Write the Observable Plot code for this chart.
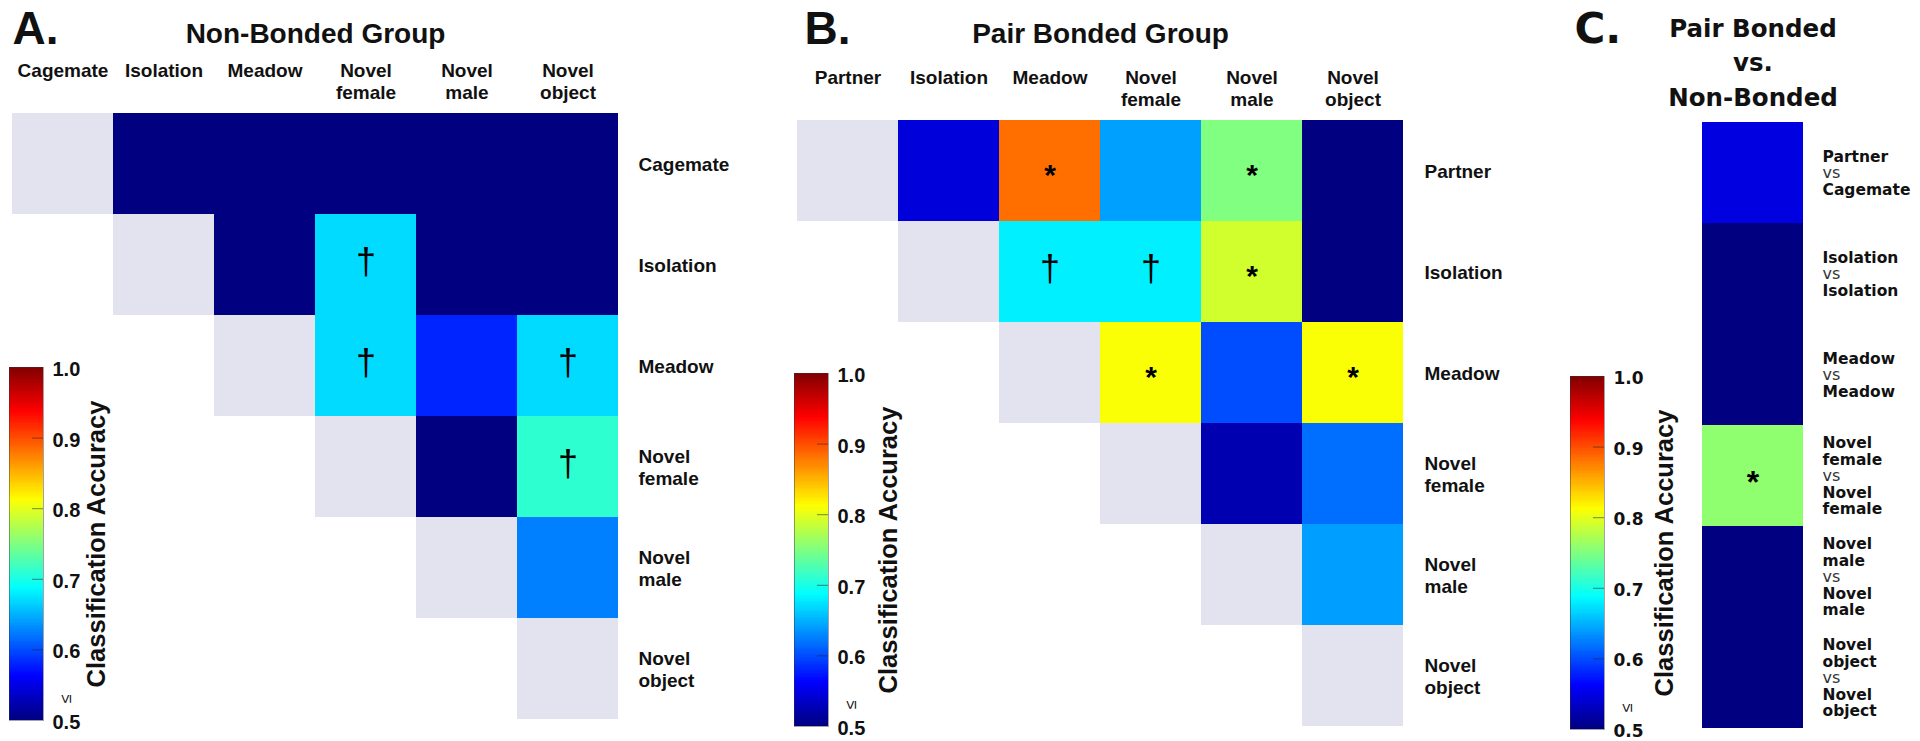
<!DOCTYPE html>
<html>
<head>
<meta charset="utf-8">
<script src="https://cdn.jsdelivr.net/npm/d3@7"></script>
<script src="https://cdn.jsdelivr.net/npm/@observablehq/plot@0.6"></script>
<style>
html, body { margin: 0; padding: 0; background: #fff; overflow: hidden; }
#wrap { position: relative; width: 1920px; height: 741px; }
#wrap svg { position: absolute; top: 0; overflow: visible; }
</style>
</head>
<body>
<div id="wrap"></div>
<script>
// ---------------- DATA ----------------
// Panel A: Non-Bonded Group (upper triangle, null = not drawn)
const nbLabels = ["Cagemate", "Isolation", "Meadow", "Novel female", "Novel male", "Novel object"];
const nbAcc = [
  [null, 0.50, 0.50, 0.50, 0.50, 0.50],
  [null, null, 0.50, 0.67, 0.50, 0.50],
  [null, null, null, 0.67, 0.58, 0.67],
  [null, null, null, null, 0.50, 0.71],
  [null, null, null, null, null, 0.625],
  [null, null, null, null, null, null]
];
const nbSig = [
  ["", "", "", "", "", ""],
  ["", "", "", "†", "", ""],
  ["", "", "", "†", "", "†"],
  ["", "", "", "", "", "†"],
  ["", "", "", "", "", ""],
  ["", "", "", "", "", ""]
];

// Panel B: Pair Bonded Group
const pbLabels = ["Partner", "Isolation", "Meadow", "Novel female", "Novel male", "Novel object"];
const pbAcc = [
  [null, 0.545, 0.883, 0.641, 0.75, 0.50],
  [null, null, 0.68, 0.68, 0.79, 0.50],
  [null, null, null, 0.81, 0.60, 0.81],
  [null, null, null, null, 0.524, 0.617],
  [null, null, null, null, null, 0.64],
  [null, null, null, null, null, null]
];
const pbSig = [
  ["", "", "*", "", "*", ""],
  ["", "", "†", "†", "*", ""],
  ["", "", "", "*", "", "*"],
  ["", "", "", "", "", ""],
  ["", "", "", "", "", ""],
  ["", "", "", "", "", ""]
];

// Panel C: Pair Bonded vs. Non-Bonded
const cmpFirst = ["Partner", "Isolation", "Meadow", "Novel female", "Novel male", "Novel object"];
const cmpSecond = ["Cagemate", "Isolation", "Meadow", "Novel female", "Novel male", "Novel object"];
const cmpAcc = [0.547, 0.50, 0.50, 0.758, 0.50, 0.50];
const cmpSig = ["", "", "", "*", "", ""];

// Colorbar ticks
const cbTicks = [0.5, 0.6, 0.7, 0.8, 0.9, 1.0];

// Titles
const titleA = "Non-Bonded Group";
const titleB = "Pair Bonded Group";
const titleC = "Pair Bonded\nvs.\nNon-Bonded";
const cbLabel = "Classification Accuracy";

// ---------------- STYLE ----------------
const fontA = "'Liberation Sans', Arial, Helvetica, sans-serif";
const fontW = "'DejaVu Sans', Verdana, sans-serif";
const ink = "#111";
const diagFill = "#e3e3ef";
// MATLAB "jet" colormap as a piecewise linear scale over 0.5 .. 1.0
const jet = {
  type: "linear",
  domain: [0.5, 0.5625, 0.6875, 0.8125, 0.9375, 1.0],
  range: ["#000080", "#0000ff", "#00ffff", "#ffff00", "#ff0000", "#800000"],
  interpolate: "rgb",
  clamp: true
};
const wrap = document.getElementById("wrap");
const twoLines = s => s.replace(" ", "\n");

function place(svg, left) {
  svg.style.left = left + "px";
  wrap.appendChild(svg);
}

// ---------------- MATRIX PANELS ----------------
function matrixPanel(o) {
  const cells = [], diag = [];
  o.labels.forEach((r, i) => o.labels.forEach((c, j) => {
    if (i === j) diag.push({row: r, col: c});
    else if (o.acc[i][j] != null) cells.push({row: r, col: c, v: o.acc[i][j], sig: o.sig[i][j]});
  }));
  const svg = Plot.plot({
    width: o.width,
    height: 741,
    marginLeft: o.x0 - o.left,
    marginRight: o.left + o.width - o.x1,
    marginTop: o.y0,
    marginBottom: 741 - o.y1,
    x: {domain: o.labels, padding: 0, axis: null},
    y: {domain: o.labels, padding: 0, axis: null},
    color: jet,
    style: {fontFamily: fontA, fontWeight: "bold", fontSize: "19px", color: ink, background: "transparent"},
    marks: [
      Plot.cell(diag, {x: "col", y: "row", fill: diagFill, shapeRendering: "crispEdges"}),
      Plot.cell(cells, {x: "col", y: "row", fill: "v", shapeRendering: "crispEdges"}),
      Plot.text(cells.filter(d => d.sig === "†"), {x: "col", y: "row", text: "sig", fontSize: 36, fontWeight: "normal", fill: "#000", dy: -3}),
      Plot.text(cells.filter(d => d.sig === "*"), {x: "col", y: "row", text: "sig", fontSize: 30, fontWeight: "bold", fill: "#000", dy: 4}),
      Plot.text(o.labels, {x: d => d, text: twoLines, frameAnchor: "top", lineAnchor: "top", lineHeight: 1.16, fontSize: 19, dy: o.headerDy}),
      Plot.text(o.labels, {y: d => d, text: twoLines, frameAnchor: "right", textAnchor: "start", lineAnchor: "middle", lineHeight: 1.16, fontSize: 19, dx: o.rowDx}),
      Plot.text([o.title], {frameAnchor: "top", textAnchor: "middle", lineAnchor: "bottom", fontSize: 28, dy: o.titleBase - o.y0}),
      Plot.text([o.letter], {frameAnchor: "top-left", textAnchor: "start", lineAnchor: "bottom", fontSize: 46, dx: o.letterX - o.x0, dy: o.letterBase - o.y0})
    ]
  });
  place(svg, o.left);
}

matrixPanel({
  labels: nbLabels, acc: nbAcc, sig: nbSig, title: titleA, letter: "A.",
  left: 0, width: 760, x0: 12, x1: 618, y0: 113, y1: 719,
  headerDy: -52, rowDx: 20, titleBase: 42, letterX: 12, letterBase: 43
});
matrixPanel({
  labels: pbLabels, acc: pbAcc, sig: pbSig, title: titleB, letter: "B.",
  left: 760, width: 740, x0: 797, x1: 1403, y0: 120, y1: 726,
  headerDy: -52, rowDx: 21, titleBase: 42, letterX: 804, letterBase: 43
});

// ---------------- PANEL C ----------------
{
  const rows = cmpFirst.map((f, i) => ({key: f + " vs " + cmpSecond[i], first: f, second: cmpSecond[i], v: cmpAcc[i], sig: cmpSig[i]}));
  const svg = Plot.plot({
    width: 420,
    height: 741,
    marginLeft: 202,
    marginRight: 117,
    marginTop: 122,
    marginBottom: 13,
    x: {domain: ["cmp"], padding: 0, axis: null},
    y: {domain: rows.map(d => d.key), padding: 0, axis: null},
    color: jet,
    style: {fontFamily: fontW, fontWeight: "bold", fontSize: "16px", color: ink, background: "transparent"},
    marks: [
      Plot.cell(rows, {x: () => "cmp", y: "key", fill: "v", shapeRendering: "crispEdges"}),
      Plot.text(rows.filter(d => d.sig), {x: () => "cmp", y: "key", text: "sig", fontFamily: fontA, fontSize: 32, fill: "#000", dy: 7}),
      Plot.text(rows, {y: "key", text: d => twoLines(d.first) + "\n\u00a0\n" + twoLines(d.second), frameAnchor: "right", textAnchor: "start", lineAnchor: "middle", lineHeight: 1.07, fontSize: 15.5, fontFamily: fontW, fontWeight: "bold", dx: 19}),
      Plot.text(rows, {y: "key", text: () => "vs", frameAnchor: "right", textAnchor: "start", lineAnchor: "middle", dx: 19, fontFamily: fontW, fontWeight: "normal", fontSize: 16, fill: "#333"}),
      Plot.text([titleC], {frameAnchor: "top", textAnchor: "middle", lineAnchor: "bottom", fontSize: 24.5, fontFamily: fontW, fontWeight: "bold", lineHeight: 1.39, dy: 105 - 122}),
      Plot.text(["C."], {frameAnchor: "top-left", textAnchor: "start", lineAnchor: "bottom", fontSize: 42, fontFamily: fontW, fontWeight: "bold", dx: 74 - 202, dy: 42 - 122})
    ]
  });
  place(svg, 1500);
}

// ---------------- COLORBARS ----------------
const cbSteps = d3.range(0.5, 1.0, 0.0025);
function colorbar(o) {
  const svg = Plot.plot({
    width: 34 + 130,
    height: 741,
    marginLeft: 0,
    marginRight: 130,
    marginTop: o.top,
    marginBottom: 741 - o.bottom,
    y: {domain: [0.5, 1.0], axis: null},
    color: jet,
    style: {fontFamily: o.tickFont, fontWeight: "bold", fontSize: o.tickSize + "px", color: ink, background: "transparent"},
    marks: [
      Plot.rect(cbSteps, {y1: d => d, y2: d => d + 0.0026, fill: d => d + 0.00125, shapeRendering: "crispEdges"}),
      Plot.tickY(cbTicks.slice(1, -1), {y: d => d, stroke: "#222", strokeOpacity: 0.55, insetLeft: 23}),
      Plot.frame({stroke: "#333", strokeOpacity: 0.45}),
      Plot.axisY({anchor: "right", ticks: cbTicks, tickFormat: d3.format(".1f"), tickSize: 0, tickPadding: 9, dy: 2, fontSize: o.tickSize, fontFamily: o.tickFont, fontWeight: "bold"}),
      Plot.text(["≤"], {frameAnchor: "bottom-right", textAnchor: "middle", lineAnchor: "middle", dx: 22, dy: -22, rotate: -90, fontFamily: fontA, fontSize: 16, fontWeight: "normal"}),
      Plot.text([cbLabel], {frameAnchor: "right", textAnchor: "middle", lineAnchor: "middle", dx: o.labelDx, rotate: -90, fontFamily: fontA, fontSize: 25.5, fontWeight: "bold"})
    ]
  });
  place(svg, o.left);
}
colorbar({left: 9, top: 367, bottom: 720, tickFont: fontA, tickSize: 20, labelDx: 53});
colorbar({left: 794, top: 373, bottom: 726, tickFont: fontA, tickSize: 20, labelDx: 60});
colorbar({left: 1570, top: 376, bottom: 729, tickFont: fontW, tickSize: 17, labelDx: 60});
</script>
</body>
</html>
